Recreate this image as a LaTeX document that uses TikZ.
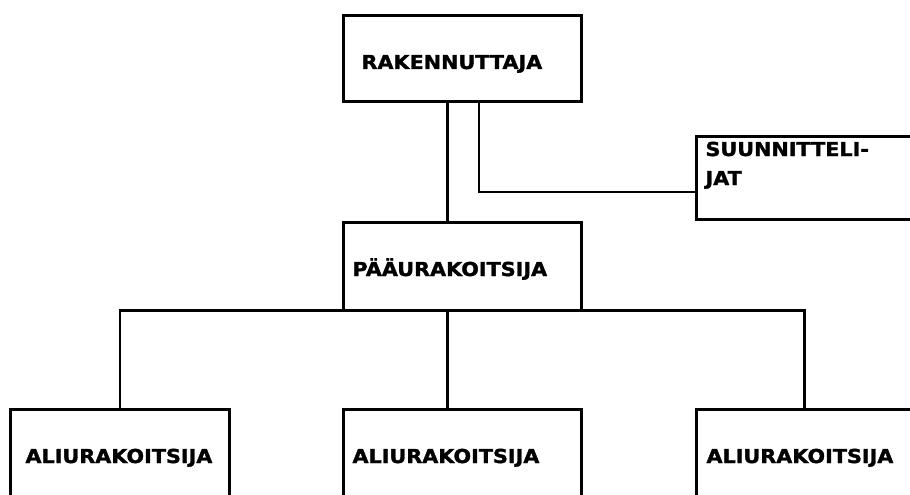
\documentclass[tikz,border=0pt]{standalone}
\usepackage{fontspec}
\newfontfamily\boxfont{DejaVu Sans Bold}[FakeStretch=1.08, FakeBold=1.6]
\hyphenpenalty=10000
\begin{document}
\begin{tikzpicture}[
  x=1pt, y=-1pt,
  box/.style={draw, line width=3.2pt, outer sep=0pt, anchor=north west, align=left, inner ysep=0pt, text depth=0pt,
    font=\boxfont\fontsize{19.2}{29}\selectfont, minimum width=238pt},
  link/.style={line width=2.2pt},
  trunk/.style={line width=3.2pt}
]
\useasboundingbox (0,0) rectangle (910,495);
\clip (0,0) rectangle (910,495);
\coordinate (mid) at (447.5,0);
\coordinate (side) at (479,192);
\coordinate (rgt) at (804.5,0);
\node[box, minimum height=86pt, inner xsep=18pt, text width=202pt, text height=21pt] (rak) at (343.5,15.5) {RAKENNUTTAJA};
\node[box, minimum height=83pt, inner xsep=9pt, text width=220pt, text height=14pt, text depth=58pt] (suun) at (696.5,136.5) {SUUNNITTELI-\\JAT};
\node[box, minimum height=88pt, inner xsep=9pt, text width=220pt, text height=19pt] (paa) at (343.5,222.5) {PÄÄURAKOITSIJA};
\node[box, minimum width=219pt, minimum height=93pt, inner xsep=15pt, text width=189pt, text height=14pt] (ali1) at (10.5,409.5) {ALIURAKOITSIJA};
\node[box, minimum height=93pt, inner xsep=9pt, text width=220pt, text height=14pt] (ali2) at (343.5,409.5) {ALIURAKOITSIJA};
\node[box, minimum height=93pt, inner xsep=10pt, text width=218pt, text height=14pt] (ali3) at (696.5,409.5) {ALIURAKOITSIJA};
\draw[trunk] (rak.south -| mid) -- (paa.north -| mid);
\draw[link] (rak.south -| side) |- (suun.west |- side);
\draw[link] (ali1.north) |- (paa.south -| rgt) -- (ali3.north -| rgt);
\draw[link] (paa.south -| mid) -- (ali2.north -| mid);
\end{tikzpicture}
\end{document}
